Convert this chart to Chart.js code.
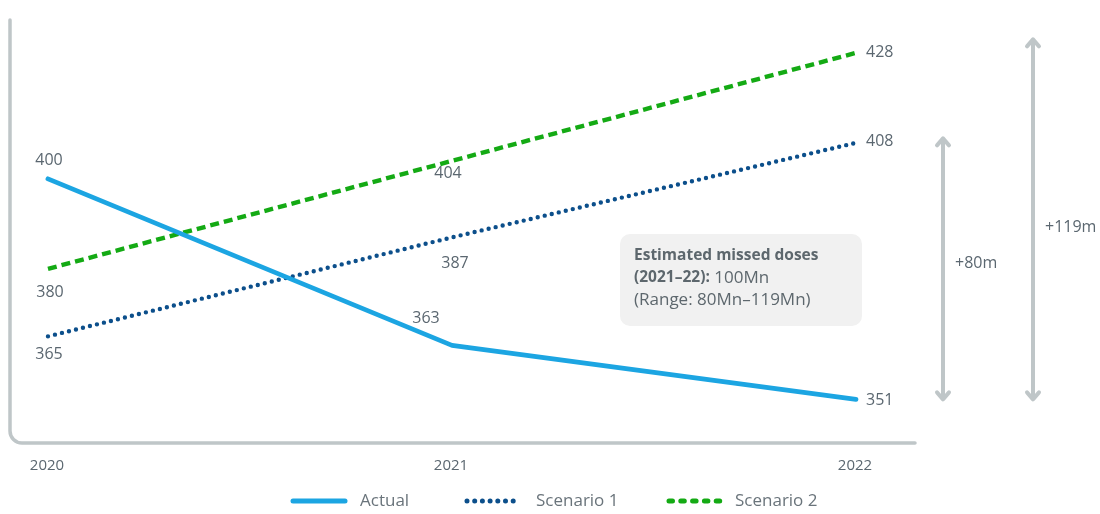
<!DOCTYPE html>
<html>
<head>
<meta charset="utf-8">
<script src="https://cdn.jsdelivr.net/npm/chart.js@4.4.1/dist/chart.umd.min.js"></script>
<style>
  html, body { margin: 0; padding: 0; background: #ffffff; }
  #wrap { width: 1100px; height: 514px; position: relative; }
</style>
</head>
<body>
<div id="wrap"><canvas id="chart" width="1100" height="514"></canvas></div>
<script>
// Years on the horizontal axis
const years = [2020, 2021, 2022];

// Doses (millions) per year
const actual = [400, 363, 351];
const scenario1 = [365, 387, 408];
const scenario2 = [380, 404, 428];

const seriesNames = ['Actual', 'Scenario 1', 'Scenario 2'];

// Gap arrows at the right: [top value, bottom value, label]
const gapArrows = [
  { top: 409, bottom: 351, label: '+80m' },
  { top: 431, bottom: 351, label: '+119m' }
];

const noteLines = [
  [{ t: 'Estimated missed doses', bold: true }],
  [{ t: '(2021\u201322):', bold: true }, { t: ' 100Mn', bold: false }],
  [{ t: '(Range: 80Mn\u2013119Mn)', bold: false }]
];

const FONT = '"Open Sans", "Noto Sans", sans-serif';
const TEXT = '#5b6770';
const AXIS = '#bfc6c8';
const COLORS = ['#1ca5e2', '#0c4f8b', '#14aa14'];

// Where each value label sits relative to its point: [dx, dy, align]
const labelPlacement = [
  [[1, -18, 'center'], [-26, -27, 'center'], [10, 1, 'left']],
  [[1, 18, 'center'], [3, 26, 'center'], [10, -1, 'left']],
  [[2, 24, 'center'], [-4, 13, 'center'], [10, 0, 'left']]
];

const toPoints = vals => vals.map((v, i) => ({ x: years[i], y: v }));

const datasets = [
  {
    label: seriesNames[0], data: toPoints(actual),
    borderColor: COLORS[0], borderWidth: 4.8, borderCapStyle: 'round', borderJoinStyle: 'round'
  },
  {
    label: seriesNames[1], data: toPoints(scenario1),
    borderColor: COLORS[1], borderWidth: 4.4, borderCapStyle: 'round', borderDash: [0, 7.2]
  },
  {
    label: seriesNames[2], data: toPoints(scenario2),
    borderColor: COLORS[2], borderWidth: 4.4, borderCapStyle: 'butt', borderDash: [9, 5]
  }
].map(d => Object.assign(d, { pointRadius: 0, tension: 0, fill: false }));

function roundRect(ctx, x, y, w, h, r) {
  ctx.beginPath();
  ctx.moveTo(x + r, y);
  ctx.lineTo(x + w - r, y);
  ctx.arcTo(x + w, y, x + w, y + r, r);
  ctx.lineTo(x + w, y + h - r);
  ctx.arcTo(x + w, y + h, x + w - r, y + h, r);
  ctx.lineTo(x + r, y + h);
  ctx.arcTo(x, y + h, x, y + h - r, r);
  ctx.lineTo(x, y + r);
  ctx.arcTo(x, y, x + r, y, r);
  ctx.closePath();
}

const decorations = {
  id: 'decorations',
  beforeDatasetsDraw(chart) {
    const { ctx, chartArea: a, scales: { x } } = chart;
    ctx.save();
    // L-shaped axis with a rounded corner
    ctx.strokeStyle = AXIS;
    ctx.lineWidth = 3.5;
    ctx.lineCap = 'round';
    const r = 12;
    ctx.beginPath();
    ctx.moveTo(a.left, a.top);
    ctx.lineTo(a.left, a.bottom - r);
    ctx.arcTo(a.left, a.bottom, a.left + r, a.bottom, r);
    ctx.lineTo(a.right, a.bottom);
    ctx.stroke();
    // year labels
    ctx.fillStyle = TEXT;
    ctx.font = '15px ' + FONT;
    ctx.textAlign = 'center';
    ctx.textBaseline = 'middle';
    years.forEach(yr => ctx.fillText(String(yr), x.getPixelForValue(yr) - 1, a.bottom + 23));
    ctx.restore();
  },
  afterDatasetsDraw(chart) {
    const { ctx, scales: { y } } = chart;
    ctx.save();
    // value labels
    ctx.font = '16px ' + FONT;
    ctx.fillStyle = TEXT;
    ctx.textBaseline = 'middle';
    chart.data.datasets.forEach((ds, di) => {
      const meta = chart.getDatasetMeta(di);
      meta.data.forEach((pt, pi) => {
        const [dx, dy, align] = labelPlacement[di][pi];
        ctx.textAlign = align;
        ctx.fillText(String(ds.data[pi].y), pt.x + dx, pt.y + dy);
      });
    });

    // note box
    const bx = 620, by = 234, bw = 242, bh = 92;
    ctx.fillStyle = '#f1f1f1';
    roundRect(ctx, bx, by, bw, bh, 10);
    ctx.fill();
    ctx.textAlign = 'left';
    ctx.fillStyle = '#5d676d';
    noteLines.forEach((line, li) => {
      let tx = bx + 14;
      const ty = by + 22 + li * 22;
      line.forEach(part => {
        ctx.font = part.bold ? 'bold 15.5px ' + FONT : '17px ' + FONT;
        ctx.fillText(part.t, tx, ty);
        tx += ctx.measureText(part.t).width;
      });
    });

    // gap arrows
    const arrowX = [943, 1033];
    const labelShift = [-5, 8];
    ctx.strokeStyle = AXIS;
    ctx.lineWidth = 4;
    ctx.lineCap = 'round';
    ctx.lineJoin = 'round';
    gapArrows.forEach((g, i) => {
      const ax = arrowX[i];
      const yt = y.getPixelForValue(g.top);
      const yb = y.getPixelForValue(g.bottom);
      ctx.beginPath();
      ctx.moveTo(ax, yt + 1);
      ctx.lineTo(ax, yb - 1);
      ctx.moveTo(ax - 6, yt + 7);
      ctx.lineTo(ax, yt);
      ctx.lineTo(ax + 6, yt + 7);
      ctx.moveTo(ax - 6, yb - 7);
      ctx.lineTo(ax, yb);
      ctx.lineTo(ax + 6, yb - 7);
      ctx.stroke();
      ctx.fillStyle = TEXT;
      ctx.font = '16px ' + FONT;
      ctx.fillText(g.label, ax + 12, (yt + yb) / 2 + labelShift[i]);
    });

    // legend
    const legendX = [[291, 345, 360], [465, 519, 536], [667, 721, 735]];
    const legendY = 501;
    chart.data.datasets.forEach((ds, di) => {
      const [x0, x1, tx] = legendX[di];
      ctx.beginPath();
      ctx.strokeStyle = ds.borderColor;
      ctx.lineWidth = 5;
      ctx.lineCap = 'round';
      if (di === 0) ctx.setLineDash([]);
      else if (di === 1) ctx.setLineDash([0, 7.7]);
      else ctx.setLineDash([3.5, 8.3]);
      ctx.moveTo(x0 + 2, legendY);
      ctx.lineTo(x1, legendY);
      ctx.stroke();
      ctx.setLineDash([]);
      ctx.fillStyle = '#6a747b';
      ctx.font = '17px ' + FONT;
      ctx.fillText(ds.label, tx, legendY);
    });
    ctx.restore();
  }
};

new Chart(document.getElementById('chart'), {
  type: 'line',
  data: { datasets },
  options: {
    responsive: false,
    animation: false,
    layout: { padding: { left: 10, top: 20, right: 185, bottom: 71 } },
    plugins: { legend: { display: false }, tooltip: { enabled: false } },
    scales: {
      x: { type: 'linear', display: false, min: 2019.906, max: 2022.146 },
      y: { type: 'linear', display: false, min: 341.3, max: 435.3 }
    }
  },
  plugins: [decorations]
});
</script>
</body>
</html>
